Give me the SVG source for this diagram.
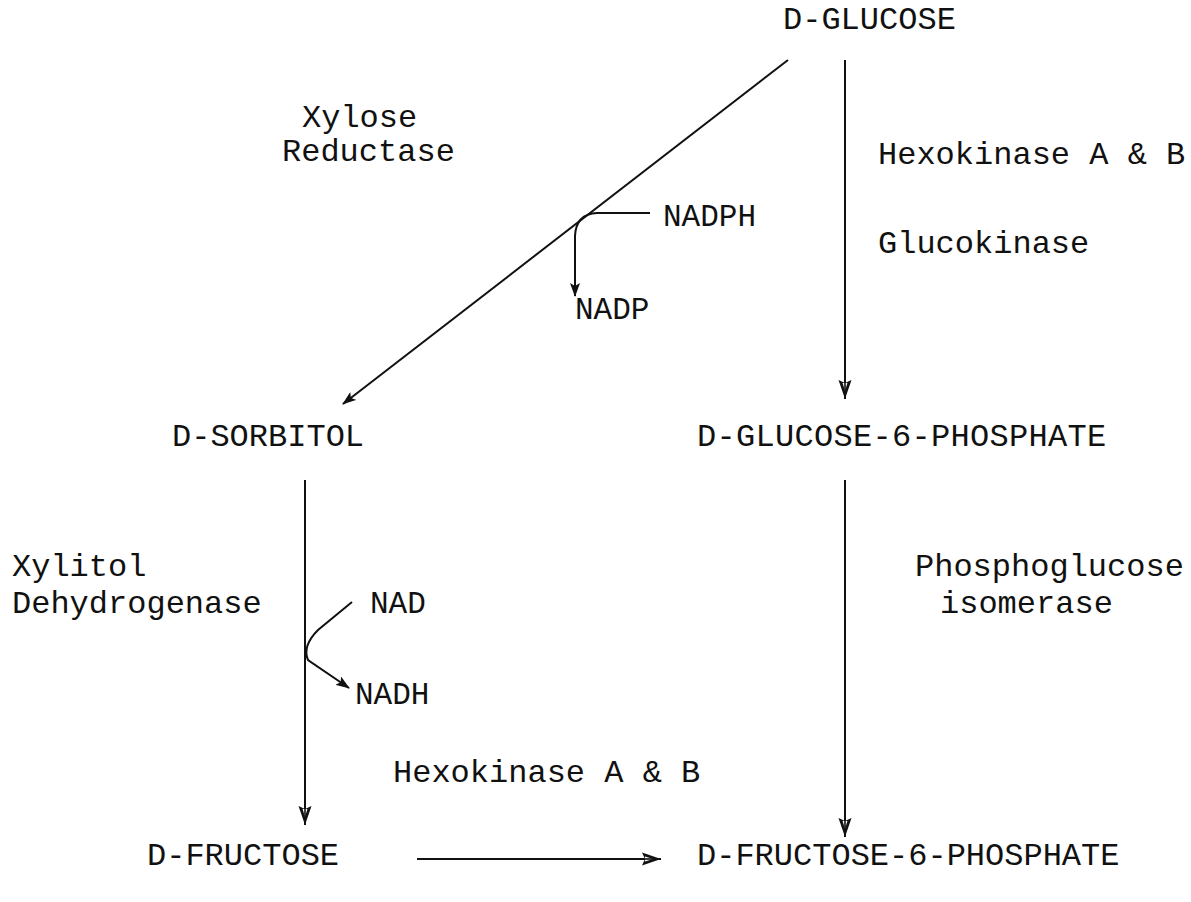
<svg xmlns="http://www.w3.org/2000/svg" width="1191" height="902" viewBox="0 0 1191 902">
  <style>
    text { font-family: "Liberation Mono", "Courier New", monospace; font-size: 32px; fill: #111; }
    .cof { font-size: 31px; }
    .ln { fill: none; stroke: #111; stroke-width: 2; }
  </style>
  <defs>
    <!-- solid head for cofactor and sorbitol arrows -->
    <marker id="solid" viewBox="0 0 14 10" refX="13" refY="5" markerWidth="14" markerHeight="10" markerUnits="userSpaceOnUse" orient="auto">
      <path d="M0,0 L14,5 L0,10 L3,5 z" fill="#111"/>
    </marker>
    <!-- narrow split head on the main pathway arrows -->
    <marker id="split" viewBox="0 0 20 14" refX="19" refY="7" markerWidth="20" markerHeight="14" markerUnits="userSpaceOnUse" orient="auto">
      <path d="M0,0.5 L19,7 L0,13.5 L3,7 z" fill="#111"/>
      <path d="M3,4.6 L11,7 L3,9.4 z" fill="#fff"/>
      <path d="M0,7 L19,7" stroke="#111" stroke-width="1.6"/>
    </marker>
  </defs>

  <g id="connectors">
    <!-- glucose to sorbitol -->
    <path class="ln" d="M788,60 L343,404" marker-end="url(#solid)"/>
    <!-- NADPH consumed, NADP released -->
    <path class="ln" d="M650,213 L597,213 Q576,214 575,236 L575,296" marker-end="url(#solid)"/>
    <!-- glucose to glucose-6-phosphate -->
    <path class="ln" d="M845,60 L845,399" marker-end="url(#split)"/>
    <!-- sorbitol to fructose -->
    <path class="ln" d="M305,480 L305,825" marker-end="url(#split)"/>
    <!-- NAD consumed, NADH released -->
    <path class="ln" d="M352,602 L318,630 Q302,646 308,660 L349,688" marker-end="url(#solid)"/>
    <!-- glucose-6-phosphate to fructose-6-phosphate -->
    <path class="ln" d="M845,480 L845,837" marker-end="url(#split)"/>
    <!-- fructose to fructose-6-phosphate -->
    <path class="ln" d="M417,859 L661,859" marker-end="url(#split)"/>
  </g>

  <g id="n-glucose"><text x="783" y="29">D-GLUCOSE</text></g>
  <g id="n-sorbitol"><text x="172" y="446">D-SORBITOL</text></g>
  <g id="n-g6p"><text x="697" y="446" letter-spacing="0.3">D-GLUCOSE-6-PHOSPHATE</text></g>
  <g id="n-fructose"><text x="147" y="865">D-FRUCTOSE</text></g>
  <g id="n-f6p"><text x="697" y="865">D-FRUCTOSE-6-PHOSPHATE</text></g>

  <g id="enzymes">
    <text x="302" y="127">Xylose</text>
    <text x="282" y="161">Reductase</text>
    <text x="878" y="164">Hexokinase A &amp; B</text>
    <text x="878" y="253">Glucokinase</text>
    <text x="12" y="576">Xylitol</text>
    <text x="12" y="613">Dehydrogenase</text>
    <text x="915" y="576">Phosphoglucose</text>
    <text x="940" y="613">isomerase</text>
    <text x="393" y="782">Hexokinase A &amp; B</text>
  </g>

  <g id="cofactors">
    <text class="cof" x="663" y="226">NADPH</text>
    <text class="cof" x="575" y="319">NADP</text>
    <text class="cof" x="370" y="613">NAD</text>
    <text class="cof" x="355" y="704">NADH</text>
  </g>
</svg>
